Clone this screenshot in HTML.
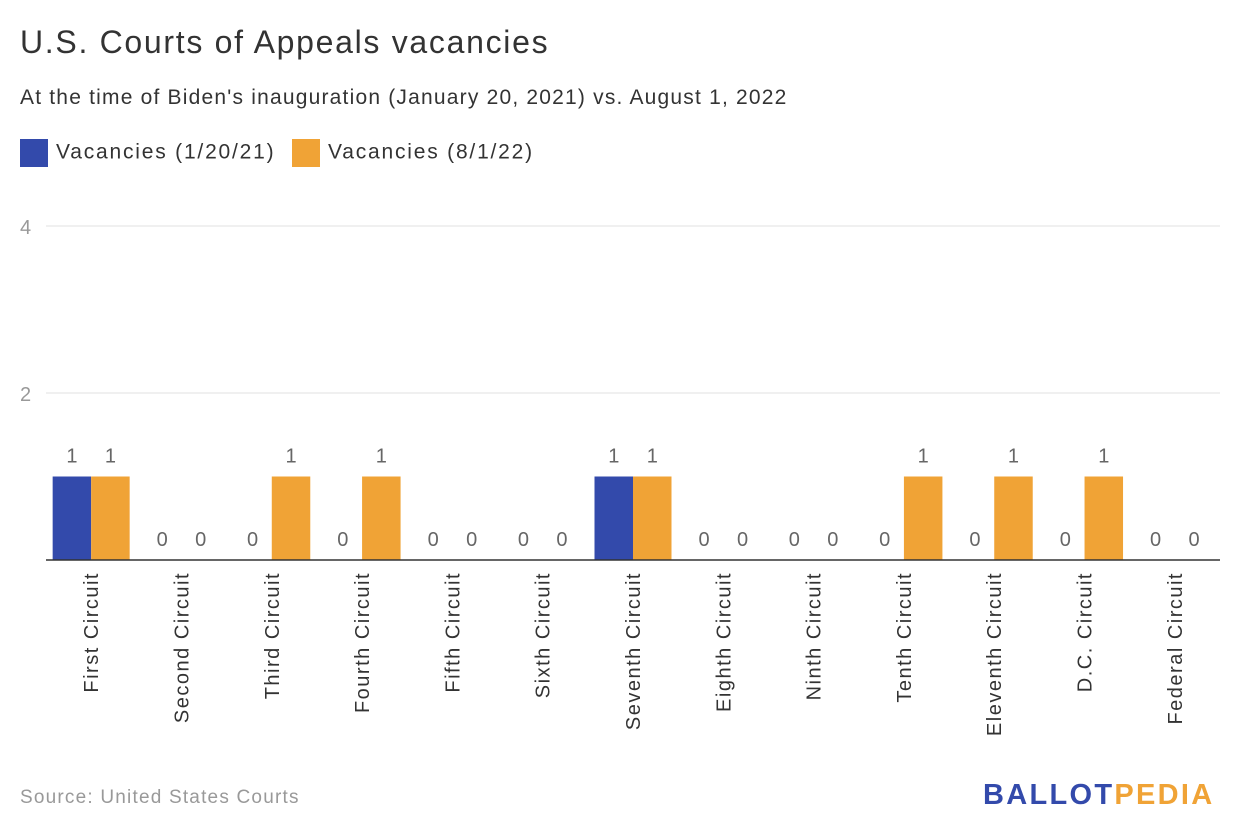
<!DOCTYPE html>
<html><head><meta charset="utf-8"><style>
body{margin:0;width:1240px;height:840px;background:#fff;font-family:"Liberation Sans",sans-serif;overflow:hidden;position:relative}
.t{position:absolute;white-space:nowrap}
</style></head><body>
<div class="t" style="left:20px;top:24px;font-size:32px;color:#333;letter-spacing:1.7px">U.S. Courts of Appeals vacancies</div>
<div class="t" style="left:20px;top:86px;font-size:21px;color:#333;letter-spacing:1.2px">At the time of Biden's inauguration (January 20, 2021) vs. August 1, 2022</div>
<div class="t" style="left:20px;top:139px;font-size:21px;color:#333;letter-spacing:1.8px"><span style="display:inline-block;width:28px;height:28px;background:#334aab;vertical-align:middle;margin-right:8px"></span>Vacancies (1/20/21)</div>
<div class="t" style="left:292px;top:139px;font-size:21px;color:#333;letter-spacing:1.8px"><span style="display:inline-block;width:28px;height:28px;background:#f0a336;vertical-align:middle;margin-right:8px"></span>Vacancies (8/1/22)</div>
<svg id="chart" width="1240" height="760" style="position:absolute;left:0;top:0"></svg>
<div class="t" style="left:20px;top:787px;font-size:19px;color:#999;letter-spacing:1.2px">Source: United States Courts</div>
<div class="t" style="left:983px;top:779px;font-size:29px;font-weight:bold;letter-spacing:2.3px"><span style="color:#334aab">BALLOT</span><span style="color:#f0a336">PEDIA</span></div>
<script>
const categories=["First Circuit","Second Circuit","Third Circuit","Fourth Circuit","Fifth Circuit","Sixth Circuit","Seventh Circuit","Eighth Circuit","Ninth Circuit","Tenth Circuit","Eleventh Circuit","D.C. Circuit","Federal Circuit"];
const vac2021=[1,0,0,0,0,0,1,0,0,0,0,0,0];
const vac2022=[1,0,1,1,0,0,1,0,0,1,1,1,0];
const yTicks=[2,4];
const NS="http://www.w3.org/2000/svg";
const svg=document.getElementById('chart');
const x0=46,x1=1220,y0=560,unit=83.5;
const bw=(x1-x0)/categories.length;
const y=v=>y0-v*unit;
function mk(tag,attrs,txt){const e=document.createElementNS(NS,tag);for(const k in attrs)e.setAttribute(k,attrs[k]);if(txt!==undefined)e.textContent=txt;svg.appendChild(e);return e;}
yTicks.forEach(t=>{
 const g=mk('line',{x1:x0,x2:x1,y1:y(t),y2:y(t),stroke:'#e0e0e0','stroke-width':1});
 
 
 const l=mk('text',{x:20,y:y(t)+8,'font-size':20,fill:'#999'},t);
 
 
});
categories.forEach((c,i)=>{
 const cx=x0+bw*(i+0.5);
 [[vac2021[i],'#334aab',cx-38.5],[vac2022[i],'#f0a336',cx]].forEach(([v,col,bx],j)=>{
  if(v>0){const r=mk('rect',{x:bx,y:y(v),width:38.5,height:v*unit,fill:col});
   
   }
  const vl=mk('text',{x:bx+19.25,y:y(v)-14,'font-size':20,fill:'#666','text-anchor':'middle'},v);
  
  
 });
 const cl=mk('text',{transform:`translate(${cx+7},572) rotate(-90)`,'font-size':20,fill:'#333','text-anchor':'end','letter-spacing':1.5},c);
 
 
});
const ax=mk('line',{x1:x0,x2:x1,y1:y0,y2:y0,stroke:'#333','stroke-width':1.5});


</script>
</body></html>
